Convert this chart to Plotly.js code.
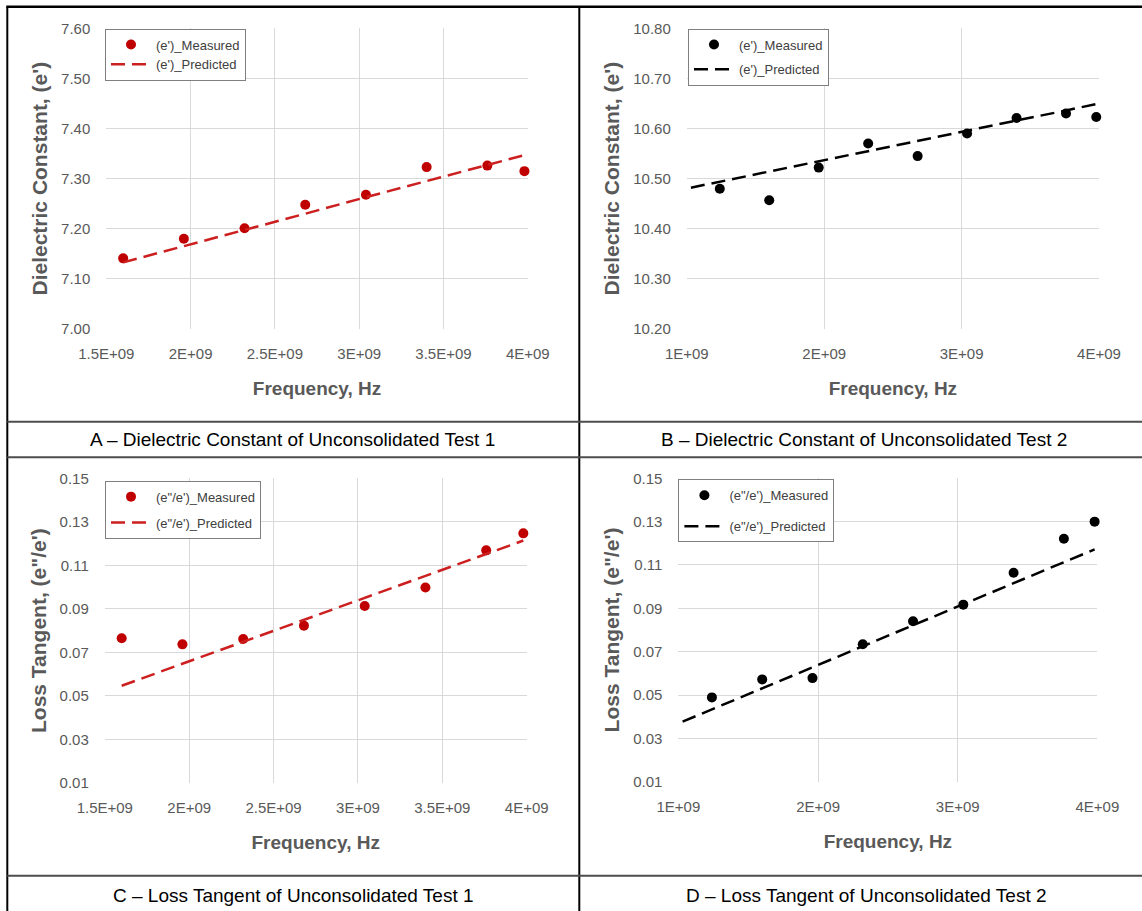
<!DOCTYPE html>
<html>
<head>
<meta charset="utf-8">
<script src="https://cdn.plot.ly/plotly-3.0.1.min.js"></script>
<style>
  html, body { margin: 0; padding: 0; background: #ffffff; }
  #chart { width: 1142px; height: 911px; }
</style>
</head>
<body>
<div id="chart"></div>
<script>
// ---------------- data ----------------
const freqTest1 = [1.60e9, 1.96e9, 2.32e9, 2.68e9, 3.04e9, 3.40e9, 3.76e9, 3.98e9];
const epsMeasuredTest1 = [7.141, 7.180, 7.201, 7.248, 7.268, 7.323, 7.326, 7.315];
const epsPredictedTest1 = [7.133, 7.165, 7.198, 7.230, 7.263, 7.295, 7.327, 7.347];
const lossMeasuredTest1 = [0.0765, 0.0737, 0.0762, 0.0823, 0.0913, 0.0998, 0.1169, 0.1247];
const lossPredictedTest1 = [0.0547, 0.0648, 0.0749, 0.0850, 0.0951, 0.1052, 0.1153, 0.1214];

const freqTest2 = [1.24e9, 1.60e9, 1.96e9, 2.32e9, 2.68e9, 3.04e9, 3.40e9, 3.76e9, 3.98e9];
const freqPredTest2 = [1.03e9, 1.24e9, 1.60e9, 1.96e9, 2.32e9, 2.68e9, 3.04e9, 3.40e9, 3.76e9, 3.98e9];
const epsMeasuredTest2 = [10.480, 10.457, 10.522, 10.570, 10.545, 10.590, 10.621, 10.630, 10.623];
const epsPredictedTest2 = [10.482, 10.494, 10.514, 10.535, 10.555, 10.575, 10.596, 10.616, 10.636, 10.649];
const lossMeasuredTest2 = [0.0489, 0.0572, 0.0578, 0.0734, 0.0840, 0.0917, 0.1064, 0.1221, 0.1300];
const lossPredictedTest2 = [0.0377, 0.0434, 0.0531, 0.0628, 0.0725, 0.0822, 0.0919, 0.1016, 0.1113, 0.1172];

const xTickValsTest1 = [1.5e9, 2.0e9, 2.5e9, 3.0e9, 3.5e9, 4.0e9];
const xTickTextTest1 = ['1.5E+09', '2E+09', '2.5E+09', '3E+09', '3.5E+09', '4E+09'];
const xTickValsTest2 = [1e9, 2e9, 3e9, 4e9];
const xTickTextTest2 = ['1E+09', '2E+09', '3E+09', '4E+09'];

const captions = [
  'A – Dielectric Constant of Unconsolidated Test 1',
  'B – Dielectric Constant of Unconsolidated Test 2',
  'C – Loss Tangent of Unconsolidated Test 1',
  'D – Loss Tangent of Unconsolidated Test 2'
];
const legendNames = {
  epsMeas: "(e')_Measured", epsPred: "(e')_Predicted",
  lossMeas: '(e"/e\')_Measured', lossPred: '(e"/e\')_Predicted'
};

// ---------------- layout helpers ----------------
const W = 1142, H = 911;
const PX = v => v / W;
const PY = v => 1 - v / H;

const FONT = '"Liberation Sans", Arial, sans-serif';
const RED_M = '#C00000';
const RED_L = '#CC1F1F';
const BLACK = '#000000';

function mkScatter(x, y, color, name, xa, ya, leg, grp) {
  return { type: 'scatter', mode: 'markers', x: x, y: y, name: name,
    xaxis: xa, yaxis: ya, legend: leg, legendgroup: grp, cliponaxis: false,
    marker: { color: color, size: 10, symbol: 'circle' }, hoverinfo: 'skip' };
}
function mkLine(x, y, color, name, xa, ya, leg, grp) {
  return { type: 'scatter', mode: 'lines', x: x, y: y, name: name,
    xaxis: xa, yaxis: ya, legend: leg, legendgroup: grp, cliponaxis: false,
    line: { color: color, width: 2.5, dash: '14px,7px' }, hoverinfo: 'skip' };
}

const traces = [
  mkScatter(freqTest1, epsMeasuredTest1, RED_M, legendNames.epsMeas, 'x', 'y', 'legend', 'a1'),
  mkLine(freqTest1, epsPredictedTest1, RED_L, legendNames.epsPred, 'x', 'y', 'legend', 'a2'),
  mkScatter(freqTest2, epsMeasuredTest2, BLACK, legendNames.epsMeas, 'x2', 'y2', 'legend2', 'b1'),
  mkLine(freqPredTest2, epsPredictedTest2, BLACK, legendNames.epsPred, 'x2', 'y2', 'legend2', 'b2'),
  mkScatter(freqTest1, lossMeasuredTest1, RED_M, legendNames.lossMeas, 'x3', 'y3', 'legend3', 'c1'),
  mkLine(freqTest1, lossPredictedTest1, RED_L, legendNames.lossPred, 'x3', 'y3', 'legend3', 'c2'),
  mkScatter(freqTest2, lossMeasuredTest2, BLACK, legendNames.lossMeas, 'x4', 'y4', 'legend4', 'd1'),
  mkLine(freqPredTest2, lossPredictedTest2, BLACK, legendNames.lossPred, 'x4', 'y4', 'legend4', 'd2')
];

const tickFont = { family: FONT, size: 15, color: '#595959' };
function xAxis(dom, range, vals, text, anchor) {
  return { domain: dom, range: range, tickmode: 'array', tickvals: vals, ticktext: text,
    anchor: anchor, showgrid: true, gridcolor: '#d9d9d9', gridwidth: 1, zeroline: false,
    showline: false, ticks: '', tickfont: tickFont, ticklabelstandoff: 14, fixedrange: true,
    title: { text: 'Frequency, Hz', font: { family: FONT, size: 19, color: '#595959', weight: 'bold' }, standoff: 20 } };
}
function yAxis(dom, range, dtick, anchor, title) {
  return { domain: dom, range: range, tick0: range[0], dtick: dtick, tickformat: '.2f',
    anchor: anchor, showgrid: true, gridcolor: '#d9d9d9', gridwidth: 1, zeroline: false,
    showline: false, ticks: '', tickfont: tickFont, ticklabelstandoff: 15, fixedrange: true,
    title: { text: title, font: { family: FONT, size: 21, color: '#595959', weight: 'bold' }, standoff: 7 } };
}
function legendBox(x, y, gap) {
  return { x: PX(x), y: PY(y), xanchor: 'left', yanchor: 'top', bgcolor: '#ffffff',
    bordercolor: '#7f7f7f', borderwidth: 1, font: { family: FONT, size: 13, color: '#404040' },
    traceorder: 'grouped', tracegroupgap: gap, itemwidth: 40, itemclick: false, itemdoubleclick: false };
}

const lineShape = (x0, y0, x1, y1, color, w) => ({ type: 'line', xref: 'paper', yref: 'paper',
  x0: PX(x0), y0: PY(y0), x1: PX(x1), y1: PY(y1), line: { color: color, width: w } });

const captionAnn = (text, cx, cy) => ({ text: text, xref: 'paper', yref: 'paper', x: PX(cx), y: PY(cy),
  xanchor: 'center', yanchor: 'middle', showarrow: false, font: { family: FONT, size: 19, color: '#000000' } });

const layout = {
  width: W, height: H, margin: { l: 0, r: 0, t: 0, b: 0 },
  paper_bgcolor: '#ffffff', plot_bgcolor: '#ffffff', showlegend: true, hovermode: false,
  xaxis: xAxis([PX(106.3), PX(527.8)], [1.5e9, 4e9], xTickValsTest1, xTickTextTest1, 'y'),
  yaxis: yAxis([PY(329), PY(28.3)], [7.0, 7.6], 0.1, 'x', "Dielectric Constant, (e')"),
  xaxis2: xAxis([PX(686.8), PX(1099)], [1e9, 4e9], xTickValsTest2, xTickTextTest2, 'y2'),
  yaxis2: yAxis([PY(329), PY(28.3)], [10.2, 10.8], 0.1, 'x2', "Dielectric Constant, (e')"),
  xaxis3: xAxis([PX(104.8), PX(526.7)], [1.5e9, 4e9], xTickValsTest1, xTickTextTest1, 'y3'),
  yaxis3: yAxis([PY(783), PY(478.3)], [0.01, 0.15], 0.02, 'x3', 'Loss Tangent, (e"/e\')'),
  xaxis4: xAxis([PX(678.4), PX(1097.4)], [1e9, 4e9], xTickValsTest2, xTickTextTest2, 'y4'),
  yaxis4: yAxis([PY(781.7), PY(478.3)], [0.01, 0.15], 0.02, 'x4', 'Loss Tangent, (e"/e\')'),
  legend: legendBox(105, 28.5, 0),
  legend2: legendBox(688, 28.5, 5),
  legend3: legendBox(105, 480.7, 6),
  legend4: legendBox(678.4, 479.3, 11),
  shapes: [
    lineShape(6.3, 6.7, 1142, 6.7, '#000000', 2.5),
    lineShape(7.3, 6.7, 7.3, 911, '#000000', 2),
    lineShape(579.3, 6.7, 579.3, 911, '#000000', 2),
    lineShape(7.3, 421.7, 1142, 421.7, '#4d4d4d', 2),
    lineShape(7.3, 457.3, 1142, 457.3, '#4d4d4d', 2),
    lineShape(7.3, 875.7, 1142, 875.7, '#4d4d4d', 2)
  ],
  annotations: [
    captionAnn(captions[0], 292, 439.5),
    captionAnn(captions[1], 864, 439.5),
    captionAnn(captions[2], 293, 895),
    captionAnn(captions[3], 866, 895)
  ]
};

Plotly.newPlot('chart', traces, layout, { staticPlot: true, displayModeBar: false });
</script>
</body>
</html>
